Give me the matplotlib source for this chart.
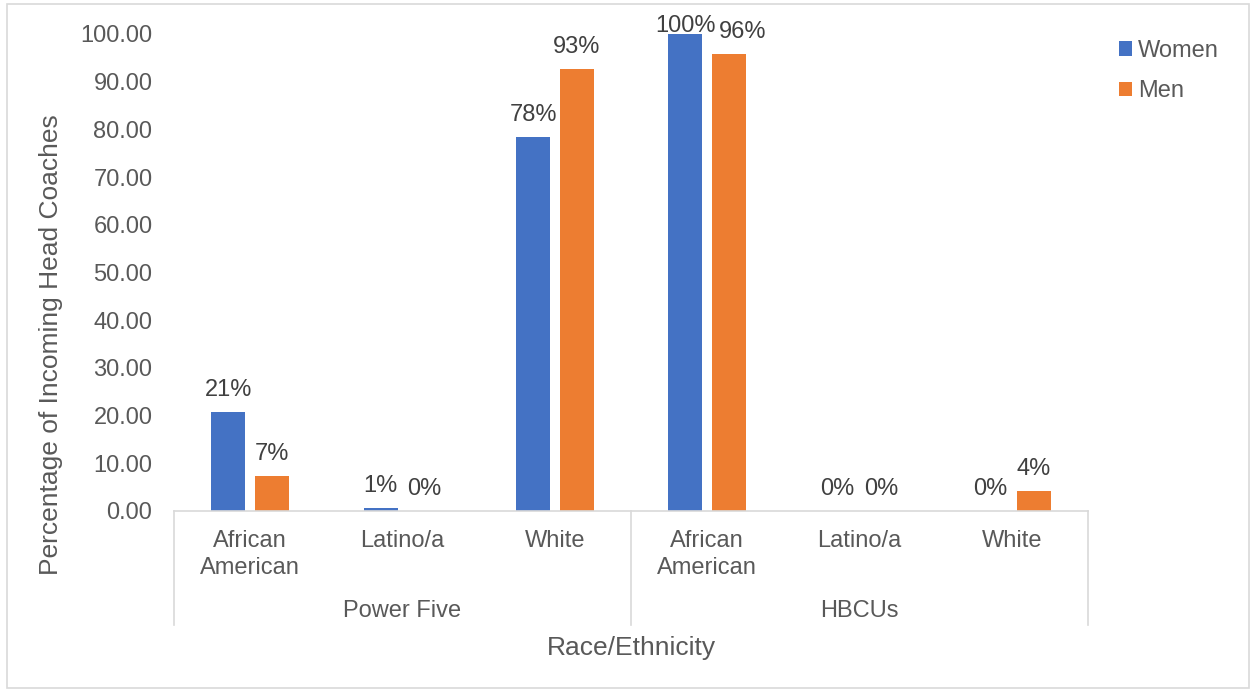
import matplotlib
matplotlib.use("Agg")
import matplotlib.pyplot as plt
from matplotlib.patches import Rectangle
import matplotlib.transforms as mtransforms

plt.rcParams['font.family'] = ['Liberation Sans', 'DejaVu Sans']

groups = ["Power Five", "HBCUs"]
races = ["African\nAmerican", "Latino/a", "White"]
categories = [r for g in groups for r in races]
women = [20.8, 0.6, 78.4, 100.0, 0.0, 0.0]
men = [7.3, 0.0, 92.7, 95.8, 0.0, 4.1]
yticks = [0, 10, 20, 30, 40, 50, 60, 70, 80, 90, 100]

BLUE = "#4472C4"
ORANGE = "#ED7D31"
TICK_GRAY = "#595959"
LABEL_GRAY = "#404040"
LINE_GRAY = "#D9D9D9"
FS = 17

W, H = 1252, 690
fig = plt.figure(figsize=(W / 100, H / 100), dpi=100)

# chart area border
fig.patches.append(Rectangle((7 / W, 2 / H), 1242 / W, 684 / H, transform=fig.transFigure,
                             fill=False, edgecolor=LINE_GRAY, linewidth=1.2))

ax_left, ax_right = 174 / W, 1088 / W
ax_bottom, ax_top = 1 - 510.7 / H, 1 - 34 / H
ax = fig.add_axes([ax_left, ax_bottom, ax_right - ax_left, ax_top - ax_bottom])

x = list(range(len(categories)))
off, bw = 0.143, 0.223
bw_bars = ax.bar([i - off for i in x], women, width=bw, color=BLUE, label="Women", zorder=2)
bm_bars = ax.bar([i + off for i in x], men, width=bw, color=ORANGE, label="Men", zorder=2)

ymax = 100
labels = []  # (category index, text) pairs, women first
for bars, vals in ((bw_bars, women), (bm_bars, men)):
    for i, (b, v) in enumerate(zip(bars, vals)):
        # labels of full-height bars sit tight on the bar so they stay inside the chart
        dy = 1.5 if v >= ymax else 11.5
        t = ax.annotate(f"{v:.0f}%", (b.get_x() + b.get_width() / 2, v),
                        xytext=(0, dy), textcoords="offset points",
                        ha="center", va="baseline", fontsize=FS, color=LABEL_GRAY,
                        annotation_clip=False)
        labels.append((i, t))

ax.set_xlim(-0.5, len(categories) - 0.5)
ax.set_ylim(0, ymax)
ax.set_yticks(yticks)
ax.set_yticklabels([f"{t:.2f}" for t in yticks])
ax.tick_params(axis="y", length=0, pad=15.5, labelsize=FS, labelcolor=TICK_GRAY)
ax.set_xticks([])
for s in ("left", "top", "right"):
    ax.spines[s].set_visible(False)
ax.spines["bottom"].set_color(LINE_GRAY)
ax.spines["bottom"].set_linewidth(1.2)

trans = mtransforms.blended_transform_factory(ax.transData, ax.transAxes)
axh = 510.7 - 34

def ay(px):
    return -(px - 510.7) / axh

# group separators of the multi-level category axis
for xv in (-0.5, 2.5, 5.5):
    ax.plot([xv, xv], [0, ay(625)], transform=trans, color=LINE_GRAY,
            linewidth=1.2, clip_on=False)

for i, c in enumerate(categories):
    ax.text(i, ay(530), c, transform=trans, ha="center", va="top",
            fontsize=FS, color=TICK_GRAY, linespacing=1.3)

for gi, g in enumerate(groups):
    ax.text(gi * 3 + 1, ay(611), g, transform=trans, ha="center", va="center",
            fontsize=FS, color=TICK_GRAY)

ax.text(0.5, ay(648), "Race/Ethnicity", transform=ax.transAxes, ha="center",
        va="center", fontsize=19, color=TICK_GRAY)
fig.text(51 / W, 1 - 345 / H, "Percentage of Incoming Head Coaches", rotation=90,
         ha="center", va="center", fontsize=19, color=TICK_GRAY)

leg = fig.legend(handles=[bw_bars, bm_bars], loc="upper left",
                 bbox_to_anchor=(1100 / W, 1 - 21 / H), frameon=False,
                 fontsize=FS, handlelength=0.55, handleheight=0.55,
                 handletextpad=0.25, labelspacing=0.78, borderpad=0.3)
for t in leg.get_texts():
    t.set_color(TICK_GRAY)

# nudge a men's label right when it collides with the women's label beside it
fig.canvas.draw()
renderer = fig.canvas.get_renderer()
n = len(categories)
for i in range(n):
    tw, tm = labels[i][1], labels[n + i][1]
    ew, em = tw.get_window_extent(renderer), tm.get_window_extent(renderer)
    if ew.overlaps(em):
        shift = ew.x1 - em.x0 + 3
        tm.xyann = (tm.xyann[0] + shift * 72 / fig.dpi, tm.xyann[1])

fig.savefig("out.png", dpi=100)
